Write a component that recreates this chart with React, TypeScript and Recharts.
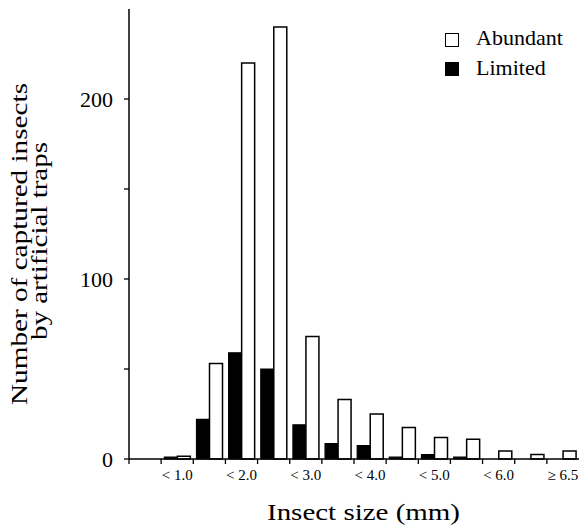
import React from 'react';
import { BarChart, Bar, XAxis, YAxis, Legend } from 'recharts';

const CATEGORIES = ['< 0.5', '< 1.0', '< 1.5', '< 2.0', '< 2.5', '< 3.0', '< 3.5', '< 4.0', '< 4.5', '< 5.0', '< 5.5', '< 6.0', '< 6.5', '≥ 6.5'];
const SHOWN_LABELS = ['< 1.0', '< 2.0', '< 3.0', '< 4.0', '< 5.0', '< 6.0', '≥ 6.5'];
const LIMITED = [0, 1, 22, 59, 50, 19, 8.5, 7.5, 1, 2.5, 1, 0, 0, 0];
const ABUNDANT = [0, 1.5, 53, 220, 240, 68, 33, 25, 17.5, 12, 11, 4.5, 2.5, 4.5];
const Y_TICKS = [0, 50, 100, 150, 200];
const Y_LABELED = [0, 100, 200];

const data = CATEGORIES.map((c, i) => ({ cat: c, limited: LIMITED[i], abundant: ABUNDANT[i] }));

const W = 579;
const H = 527;
const PLOT_LEFT = 129;
const PLOT_RIGHT = 579;
const HALF_BAND = (PLOT_RIGHT - PLOT_LEFT) / CATEGORIES.length / 2;
const FONT = '"Liberation Serif", "Times New Roman", Times, serif';

const XTick = (props: any) => {
  const { x, y, payload } = props;
  const v = payload.value;
  return (
    <g>
      <line x1={x - HALF_BAND} x2={x - HALF_BAND} y1={y} y2={y + 5} stroke="#000" strokeWidth={1.3} />
      {SHOWN_LABELS.includes(v) && (
        <text x={x} y={y + 21} textAnchor="middle" fontSize={15} fontFamily={FONT} fill="#000">
          {v}
        </text>
      )}
    </g>
  );
};

const YLabel = () => (
  <g fontFamily={FONT} fill="#000">
    <text transform="translate(27,244) rotate(-90)" textAnchor="middle" fontSize={24} textLength={322} lengthAdjust="spacingAndGlyphs">
      Number of captured insects
    </text>
    <text transform="translate(47,241) rotate(-90)" textAnchor="middle" fontSize={24} textLength={198} lengthAdjust="spacingAndGlyphs">
      by artificial traps
    </text>
  </g>
);

const XLabel = () => (
  <text x={363.5} y={520} textAnchor="middle" fontSize={23} fontFamily={FONT} fill="#000" textLength={193} lengthAdjust="spacingAndGlyphs">
    Insect size (mm)
  </text>
);

const LegendContent = () => (
  <div style={{ position: 'relative', width: W, height: 90, fontFamily: FONT, color: '#000' }}>
    <div style={{ position: 'absolute', left: 445, top: 33, width: 12, height: 12, border: '1.5px solid #000', background: '#fff' }} />
    <div style={{ position: 'absolute', left: 476, top: 25, fontSize: 22, lineHeight: '26px' }}>Abundant</div>
    <div style={{ position: 'absolute', left: 445, top: 62, width: 12, height: 12, border: '1.5px solid #000', background: '#000' }} />
    <div style={{ position: 'absolute', left: 476, top: 55, fontSize: 22, lineHeight: '26px' }}>Limited</div>
  </div>
);

export default function App() {
  return (
    <div style={{ position: 'absolute', left: 0, top: 0, width: W, height: H, background: '#fff' }}>
      <BarChart
        width={W}
        height={H}
        data={data}
        margin={{ top: 9, right: 0, bottom: 0, left: PLOT_LEFT - 60 }}
        barCategoryGap="10%"
        barGap={0}
      >
        <XAxis
          dataKey="cat"
          height={68}
          interval={0}
          tickSize={0}
          tickMargin={0}
          tickLine={false}
          tick={<XTick />}
          axisLine={{ stroke: '#000', strokeWidth: 1.5 }}
          label={<XLabel />}
        />
        <YAxis
          width={60}
          domain={[0, 250]}
          ticks={Y_TICKS}
          interval={0}
          tickSize={5}
          tickMargin={11}
          tickFormatter={(v: number) => (Y_LABELED.includes(v) ? String(v) : '')}
          tick={{ fontSize: 22, fontFamily: FONT, fill: '#000' }}
          axisLine={{ stroke: '#000', strokeWidth: 1.5 }}
          tickLine={{ stroke: '#000', strokeWidth: 1.3 }}
          label={<YLabel />}
        />
        <Legend
          layout="horizontal"
          verticalAlign="middle"
          align="center"
          content={<LegendContent />}
          wrapperStyle={{ position: 'absolute', left: 0, top: 0, width: W, height: 90 }}
        />
        <Bar dataKey="limited" name="Limited" fill="#000" stroke="#000" strokeWidth={1.2} isAnimationActive={false} />
        <Bar dataKey="abundant" name="Abundant" fill="#fff" stroke="#000" strokeWidth={1.5} isAnimationActive={false} />
      </BarChart>
    </div>
  );
}
